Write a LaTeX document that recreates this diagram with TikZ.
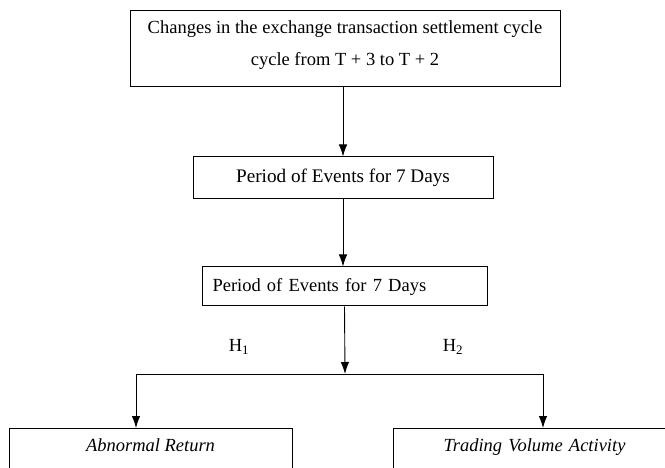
\documentclass[tikz,border=0pt]{standalone}
\usepackage{fontspec}
\setmainfont{Liberation Serif}
\usetikzlibrary{arrows.meta}
\begin{document}
\begin{tikzpicture}[x=1pt,y=-1pt,
  box/.style={draw, line width=1pt, rectangle, inner sep=0pt, font=\fontsize{18.5}{22}\selectfont},
  arr/.style={line width=0.9pt, -{Latex[length=12pt,width=8.5pt]}},
  ln/.style={line width=0.9pt}]
\useasboundingbox (0,0) rectangle (665,468);
\begin{scope}
\clip (0,0) rectangle (665,468);
\node[box, minimum width=430, minimum height=76, align=center] (top) at (345,49)
  {Changes in the exchange transaction settlement cycle\\[10pt]cycle from T + 3 to T + 2\rule[-12pt]{0pt}{0pt}};
\node[box, minimum width=300, minimum height=42, font=\fontsize{19.2}{22}\selectfont] (second) at (343,178) {Period of Events for 7 Days};
\node[box, minimum width=285, minimum height=39, text width=264, align=left] (third) at (344.5,286.5) {Period of Events for 7 Days};
\node[box, anchor=north, minimum width=283, minimum height=60, text height=23, text depth=37, font=\fontsize{18.5}{22}\selectfont\itshape] (left) at (150.5,428) {Abnormal Return};
\node[box, anchor=north west, minimum width=282, minimum height=60, text width=282, align=center, text height=23, text depth=37, font=\fontsize{18.5}{22}\selectfont\itshape] (right) at (393,428) {Trading Volume Activity};
\end{scope}
\coordinate (j) at (345,374);
\coordinate (jl) at (136,374);
\coordinate (jr) at (543,374);
\draw[arr] (top.south -| second.north) -- (second.north);
\draw[arr] (second.south) -- (second.south |- third.north);
\draw[arr] (third.south) -- (j);
\draw[ln] (jl) -- (jr);
\draw[arr] (jl) -- (jl |- left.north);
\draw[arr] (jr) -- (jr |- right.north);
\node[font=\fontsize{18.5}{22}\selectfont] (h1) at (239,347) {H\textsubscript{1}};
\node[font=\fontsize{18.5}{22}\selectfont] (h2) at (453,347) {H\textsubscript{2}};
\end{tikzpicture}
\end{document}
